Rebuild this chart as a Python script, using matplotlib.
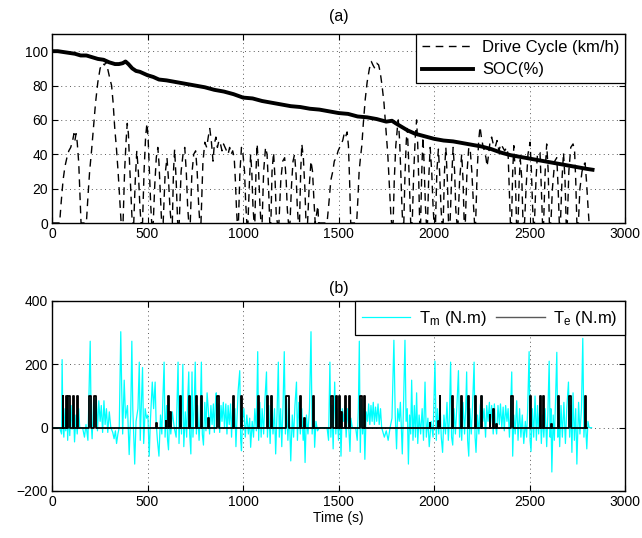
import matplotlib
matplotlib.use("Agg")
import matplotlib.pyplot as plt
import numpy as np

plt.rcParams['font.family'] = ['Liberation Sans', 'DejaVu Sans']
plt.rcParams['mathtext.fontset'] = 'custom'
plt.rcParams['mathtext.rm'] = 'Liberation Sans'
plt.rcParams['mathtext.it'] = 'Liberation Sans'

# ---------------- (a) drive cycle and SOC ----------------
drive_t = [0, 40, 48, 58, 68, 78, 88, 98, 108, 115, 120, 126, 132, 140, 146, 152,
           180, 188, 197, 207, 217, 228, 240, 252, 264, 275, 284, 293, 303, 312, 320, 328, 337, 346, 354, 362,
           372, 380, 388, 394, 400, 406, 414, 420, 428, 436, 444, 452, 460, 466,
           474, 482, 490, 497, 503, 510, 517, 522, 530, 538, 546, 554, 560, 568, 574,
           582, 592, 602, 610, 618, 624, 630, 636, 642, 650, 658, 666, 676, 686, 695, 703, 710, 716,
           724, 732, 742, 752, 760, 768, 774, 780, 790, 800, 810, 818, 826, 834, 843, 850, 858, 866,
           874, 882, 890, 898, 906, 914, 922, 930, 938, 946, 954, 960, 966, 970,
           976, 984, 992, 1000, 1008, 1014, 1020, 1026, 1034, 1040, 1046, 1052, 1058,
           1062, 1068, 1074, 1080, 1088, 1094, 1100, 1108, 1118, 1126, 1134, 1140,
           1146, 1152, 1160, 1168, 1174, 1180, 1188, 1198, 1208, 1218, 1226, 1232, 1238,
           1246, 1254, 1262, 1270, 1278, 1284, 1290, 1296, 1302, 1308, 1316, 1324, 1330,
           1338, 1346, 1356, 1364, 1372, 1378, 1392, 1396,
           1440, 1450, 1460, 1470, 1478, 1488, 1498, 1510, 1522, 1530, 1537, 1545, 1552, 1558, 1564,
           1595, 1602, 1608, 1615, 1622, 1630, 1640, 1650, 1662, 1672, 1680, 1690, 1700, 1710, 1718,
           1728, 1738, 1748, 1758, 1766, 1774, 1778,
           1786, 1792, 1800, 1808, 1813, 1820, 1826, 1832, 1836, 1842, 1848, 1855, 1860, 1866, 1872, 1878,
           1886, 1894, 1902, 1909, 1915, 1920, 1925, 1930, 1936, 1942, 1948, 1955, 1960,
           1966, 1972, 1980, 1988, 1995, 2000, 2008, 2015, 2023, 2030, 2037, 2042,
           2048, 2055, 2062, 2070, 2076, 2084, 2092, 2100, 2108, 2114, 2120,
           2126, 2134, 2145, 2152, 2158, 2164, 2172, 2182, 2190, 2198, 2206, 2212,
           2218, 2226, 2234, 2241, 2248, 2256, 2264, 2272, 2278, 2286, 2294, 2302, 2310, 2320, 2330,
           2340, 2350, 2360, 2370, 2380, 2388, 2394, 2400,
           2406, 2412, 2418, 2425, 2432, 2440, 2446, 2452, 2460, 2466, 2474, 2482, 2492, 2503, 2510,
           2516, 2520, 2526, 2534, 2542, 2555, 2562, 2568, 2574, 2582, 2590, 2598, 2604,
           2612, 2620, 2632, 2643, 2650, 2656, 2662, 2670, 2678, 2686, 2692, 2698, 2706, 2716, 2728,
           2736, 2742, 2748, 2756, 2764, 2775, 2785, 2791, 2798, 2806, 2812]
drive_v = [0, 0, 12, 25, 33, 38, 42, 44, 48, 52, 48, 52, 47, 35, 18, 0,
           0, 15, 30, 42, 55, 70, 82, 90, 93, 92, 94, 89, 84, 80, 70, 56, 44, 30, 15, 0,
           0, 30, 48, 58, 52, 35, 15, 0, 0, 25, 42, 30, 10, 0,
           0, 30, 50, 58, 50, 30, 10, 0, 0, 22, 38, 44, 35, 15, 0,
           0, 28, 38, 25, 8, 0, 0, 30, 43, 25, 0, 0, 30, 40, 44, 30, 10, 0,
           0, 28, 40, 42, 30, 10, 0, 0, 35, 47, 44, 50, 55, 48, 36, 46, 50, 44,
           48, 46, 42, 46, 44, 42, 40, 44, 40, 42, 38, 25, 8, 0,
           0, 30, 44, 40, 30, 12, 0, 0, 25, 40, 30, 10, 0,
           0, 30, 46, 35, 12, 0, 0, 30, 44, 40, 20, 0,
           0, 30, 41, 25, 5, 0, 0, 25, 36, 38, 25, 8, 0,
           0, 22, 36, 40, 28, 10, 0, 0, 30, 46, 38, 20, 0,
           0, 20, 36, 30, 12, 0, 10, 0,
           0, 12, 25, 30, 36, 38, 42, 45, 48, 52, 50, 53, 45, 25, 0,
           0, 15, 30, 38, 45, 58, 72, 82, 90, 94, 92, 90, 93, 92, 88,
           80, 70, 55, 40, 22, 5, 0,
           0, 25, 45, 55, 60, 48, 30, 10, 0, 0, 28, 48, 55, 40, 20, 0,
           0, 30, 50, 60, 45, 25, 0, 0, 30, 50, 35, 10, 0,
           0, 25, 44, 30, 10, 0, 0, 30, 43, 28, 8, 0,
           0, 30, 44, 25, 0, 0, 25, 44, 30, 8, 0,
           0, 25, 40, 25, 0, 0, 28, 44, 42, 30, 12, 0,
           0, 30, 48, 56, 50, 45, 42, 38, 33, 40, 48, 50, 46, 44, 48,
           42, 46, 44, 42, 44, 40, 20, 0,
           0, 30, 45, 30, 0, 0, 25, 37, 25, 0, 0, 20, 40, 47, 30,
           10, 0, 0, 25, 41, 41, 20, 0, 0, 30, 46, 30, 0,
           0, 20, 36, 38, 20, 0, 0, 25, 41, 25, 0, 0, 30, 44, 46,
           42, 25, 0, 0, 20, 30, 34, 35, 25, 10, 0]

soc_t = [0, 30, 60, 90, 120, 150, 180, 210, 240, 270, 300, 330, 350, 370, 385, 400, 420, 440, 460,
         480, 500, 530, 560, 600, 650, 700, 750, 800, 850, 900, 950, 1000, 1050, 1100, 1150, 1200,
         1250, 1300, 1350, 1400, 1450, 1500, 1550, 1600, 1650, 1700, 1750, 1780, 1800, 1830, 1860,
         1900, 1950, 2000, 2050, 2100, 2150, 2200, 2250, 2300, 2350, 2400, 2450, 2500, 2550, 2600,
         2650, 2700, 2750, 2800, 2830]
soc_v = [100, 100, 99.5, 99, 98.5, 97.5, 97.5, 96.5, 95.5, 95, 93.5, 92.5, 92.5, 93, 94, 92.5, 90,
         88.5, 88, 87, 86, 85, 83.5, 83, 82, 81, 80, 79, 77.5, 76.5, 75, 73, 72.5, 71, 70, 69, 68,
         67.5, 66.5, 66, 65, 64, 63.5, 62, 61.5, 60.5, 59, 59.5, 58, 56, 54, 52, 50.5, 49, 48, 47.5,
         46.5, 45.5, 44.5, 43, 41, 39.5, 38.5, 37.5, 36.5, 35.5, 34.5, 33.5, 32.5, 31.5, 31]

# ---------------- (b) torques ----------------
tm_t = [0, 40, 50, 53, 57, 62, 68, 72, 78, 82, 88, 93, 100, 105, 112, 118, 125, 132, 140, 145,
        160, 170, 178, 188, 200, 205, 210, 218, 225, 232, 238, 245, 252, 258, 265, 272, 278, 285,
        292, 300, 308, 318, 325, 332, 338, 345, 352, 360, 365, 370, 378, 385, 395, 404, 412, 418,
        423, 428, 433, 440, 450, 457, 462, 468, 474, 480, 488, 495, 502, 509, 515, 525, 532, 540,
        545, 552, 560, 568, 575, 580, 587, 592, 600, 605, 610, 616, 622, 630, 640, 650, 660, 665,
        672, 678, 685, 690, 698, 705, 710, 716, 721, 727, 733, 738, 744, 750, 756, 762, 770, 776,
        782, 787, 793, 800, 806, 812, 818, 825, 832, 838, 845, 850, 856, 860, 865, 872, 878, 885,
        890, 897, 903, 910, 916, 922, 928, 935, 940, 947, 952, 958, 963, 968, 975, 983, 988, 992,
        998, 1005, 1012, 1020, 1028, 1035, 1040, 1048, 1055, 1062, 1070, 1077, 1082, 1088, 1095,
        1100, 1108, 1115, 1123, 1128, 1135, 1142, 1150, 1157, 1165, 1171, 1178, 1185, 1190, 1197,
        1203, 1210, 1216, 1222, 1228, 1235, 1242, 1250, 1258, 1265, 1272, 1280, 1285, 1292, 1300,
        1308, 1315, 1320, 1325, 1332, 1340, 1348, 1356, 1362, 1370, 1375, 1382, 1390, 1400, 1440,
        1448, 1455, 1460, 1466, 1472, 1480, 1486, 1492, 1500, 1507, 1513, 1520, 1527, 1534, 1540,
        1547, 1553, 1560, 1565, 1572, 1590, 1598, 1604, 1609, 1614, 1620, 1626, 1632, 1638, 1645,
        1652, 1658, 1664, 1670, 1676, 1682, 1688, 1694, 1700, 1707, 1713, 1720, 1726, 1740, 1750,
        1760, 1770, 1780, 1790, 1797, 1804, 1810, 1818, 1824, 1830, 1834, 1840, 1848, 1854, 1860,
        1866, 1872, 1878, 1883, 1890, 1897, 1903, 1909, 1915, 1922, 1930, 1938, 1945, 1953, 1960,
        1968, 1975, 1985, 1995, 2005, 2012, 2018, 2025, 2031, 2038, 2045, 2052, 2060, 2068, 2075,
        2080, 2087, 2092, 2098, 2105, 2112, 2120, 2128, 2134, 2140, 2145, 2152, 2160, 2166, 2171,
        2176, 2182, 2188, 2195, 2202, 2210, 2215, 2220, 2228, 2235, 2242, 2250, 2256, 2262, 2270,
        2276, 2283, 2290, 2296, 2302, 2310, 2316, 2322, 2328, 2335, 2342, 2348, 2355, 2362, 2368,
        2375, 2382, 2388, 2395, 2400, 2407, 2412, 2418, 2425, 2433, 2440, 2448, 2455, 2462, 2470,
        2478, 2485, 2490, 2498, 2503, 2508, 2515, 2522, 2529, 2536, 2542, 2548, 2555, 2562, 2568,
        2575, 2582, 2590, 2596, 2603, 2608, 2612, 2617, 2624, 2630, 2636, 2643, 2648, 2652, 2658,
        2665, 2672, 2680, 2688, 2695, 2704, 2710, 2716, 2722, 2728, 2735, 2742, 2748, 2757, 2764,
        2772, 2779, 2785, 2791, 2796, 2800, 2806, 2812, 2825]
tm_v = [0, 0, -20, 215, 10, -30, 60, -10, 80, -40, 55, -25, 70, -5, 60, -45, 40, -20, 60, 0,
        0, -30, 10, -40, 273, 20, -35, 90, 10, 95, -10, 85, 20, 70, -15, 85, 10, 60,
        -15, 50, 0, -15, -35, -10, -50, -20, 0, 303, 120, -20, 150, 30, 70, -85, 40, 273,
        60, -30, -115, 20, 60, 207, -40, 80, 190, -50, 60, 30, 40, -90, 20, 144, 60, 144,
        20, -40, -90, 40, -20, 80, 207, -30, 70, -40, -70, 40, -20, 50, 0, -30, 207, -50,
        90, -20, 200, -60, 50, -30, 80, 176, -20, -83, 176, -30, 60, 207, -20, 70, -40, 40,
        207, -20, -55, 80, -10, 110, 60, -20, 70, 10, 75, -15, 80, 110, 20, 75, -15, 70,
        20, 80, 0, 75, -20, 70, 10, 75, -30, 80, 0, 60, -60, 20, 120, 180, -40, -73,
        30, 60, -30, 40, -20, 30, -62, 20, -30, 60, -10, 240, -40, 80, -30,
        60, -20, 90, 176, -30, 70, -50, 100, -20, 60, -83, 40, 207, -30, 60,
        -60, 80, 240, -20, 90, -40, 60, -105, 40, -30, 70, 144, -40, 80, -20,
        60, -40, 20, -110, 40, -20, 60, 303, -20, 80, -62, 20, -10, 0, 0,
        -40, 207, -30, 70, -67, 144, -20, 60, -40, 80, -90, 60, 20, 70, -30,
        60, 10, -75, 30, 0, 0, -40, 60, 273, -78, 90, -20, 60, -100, 50,
        20, 75, 10, 70, 20, 80, 10, 65, 20, 75, 10, 60, 0, -30, -10,
        -40, 0, 30, 276, 40, -67, 60, 20, 80, -20, -83, 60, 276, 20, 60,
        -115, 40, -20, 150, -40, 70, -30, 110, -50, 40, -20, 60, -40, 144, -30,
        30, -60, 20, -30, 210, -40, 60, -20, 90, -30, -78, 40, -20, 80, -40,
        20, 207, -30, -55, 60, -20, 70, 180, -30, 60, -40, 80, -20, 60, 176,
        -40, -90, 60, -20, 70, 207, -30, -78, 40, -20, 70, 100, 20, 60, -30,
        70, 20, 80, 10, 70, -20, 75, 10, -20, 70, 10, 75, 0, 65, -10,
        70, 20, 60, -30, 40, 176, -90, 40, -20, 85, -40, 60, -30, 40, -50,
        20, -30, 50, 240, -40, -75, 60, -30, 100, -40, 70, -20, 80, -50, 40,
        -30, 60, -60, 40, 210, -30, 60, -140, 40, -40, 80, 238, -30, 60, -60,
        70, -30, 80, -50, 60, 144, -30, 70, -78, 110, -40, 60, -115, 80, -20,
        60, 282, -30, 60, -20, -67, 20, 0, 0]

# Te pulses: start time, end time, level (N.m)
te_start = [55, 72, 84, 110, 130, 195, 222, 545, 595, 608, 618, 670, 719, 754, 780, 818,
            864, 948, 990, 1081, 1128, 1148, 1227, 1298, 1318, 1368, 1459, 1488, 1505, 1514,
            1532, 1554, 1611, 1631, 1636, 1977, 2021, 2029, 2096, 2143, 2178, 2213, 2248, 2291,
            2309, 2326, 2405, 2501, 2553, 2571, 2615, 2650, 2709, 2789]
te_end = [60, 78, 92, 116, 135, 203, 232, 548, 599, 613, 622, 675, 723, 759, 785, 822,
          875, 953, 995, 1086, 1133, 1153, 1241, 1303, 1322, 1373, 1469, 1493, 1510, 1518,
          1537, 1559, 1621, 1635, 1641, 1981, 2025, 2034, 2101, 2148, 2183, 2218, 2253, 2295,
          2313, 2330, 2416, 2506, 2558, 2576, 2619, 2656, 2718, 2794]
te_level = [100, 100, 100, 100, 100, 100, 100, 15, 20, 100, 50, 100, 100, 100, 100, 30,
            100, 100, 100, 100, 100, 100, 100, 100, 30, 100, 100, 100, 100, 50,
            100, 100, 100, 50, 100, 15, 20, 100, 100, 100, 100, 100, 100, 40,
            60, 10, 100, 100, 100, 100, 10, 100, 100, 100]
te_span_end = 2800

x_ticks = [0, 500, 1000, 1500, 2000, 2500, 3000]

# build Te step series from pulse table
te_t = [0.0]
te_v = [0.0]
for s, e, h in zip(te_start, te_end, te_level):
    te_t += [s, s, e, e]
    te_v += [0, h, h, 0]
te_t.append(te_span_end)
te_v.append(0)

fig = plt.figure(figsize=(6.42, 5.38), dpi=100)
ax1 = fig.add_axes([52 / 642, 1 - 223 / 538, 573 / 642, 189 / 538])
ax2 = fig.add_axes([52 / 642, 1 - 491 / 538, 573 / 642, 190 / 538])

def style(ax):
    ax.set_xlim(0, 3000)
    ax.set_xticks(x_ticks)
    ax.grid(True, linestyle=(0, (1, 3.5)), color='0.35', linewidth=0.7)
    ax.tick_params(direction='in', top=True, right=True, length=4, width=0.8,
                   labelsize=10, pad=3)
    for sp in ax.spines.values():
        sp.set_linewidth(1.0)
        sp.set_color('black')

ax1.plot(drive_t, drive_v, color='black', linewidth=1.0, linestyle=(0, (5.5, 4)),
         label='Drive Cycle (km/h)')
ax1.plot(soc_t, soc_v, color='black', linewidth=2.8, label='SOC(%)',
         solid_joinstyle='round')
style(ax1)
ax1.set_ylim(0, 110)
ax1.set_yticks([0, 20, 40, 60, 80, 100])
ax1.set_title('(a)', fontsize=11.5, pad=9)
leg1 = ax1.legend(loc='upper right', borderaxespad=0, fancybox=False, framealpha=1,
                  edgecolor='black', fontsize=12, handlelength=3.1, labelspacing=0.45,
                  borderpad=0.35, handletextpad=0.5)
leg1.get_frame().set_linewidth(0.9)

ax2.plot(tm_t, tm_v, color='cyan', linewidth=0.9, label='T$_m$ (N.m)')
ax2.plot(te_t, te_v, color='black', linewidth=1.3, label='T$_e$ (N.m)')
style(ax2)
ax2.set_ylim(-200, 400)
ax2.set_yticks([-200, 0, 200, 400])
ax2.set_yticklabels(['\u2212200', '0', '200', '400'])
ax2.set_title('(b)', fontsize=11.5, pad=6)
ax2.set_xlabel('Time (s)', fontsize=10, labelpad=1)
leg2 = ax2.legend(loc='upper right', borderaxespad=0, fancybox=False, framealpha=1,
                  edgecolor='black', fontsize=12, handlelength=2.9, ncol=2,
                  columnspacing=0.6, borderpad=0.45, handletextpad=0.5)
leg2.get_frame().set_linewidth(0.9)
leg2.get_lines()[1].set_color('0.35')
leg2.get_lines()[1].set_linewidth(1.0)

fig.savefig('out.png', dpi=100)
